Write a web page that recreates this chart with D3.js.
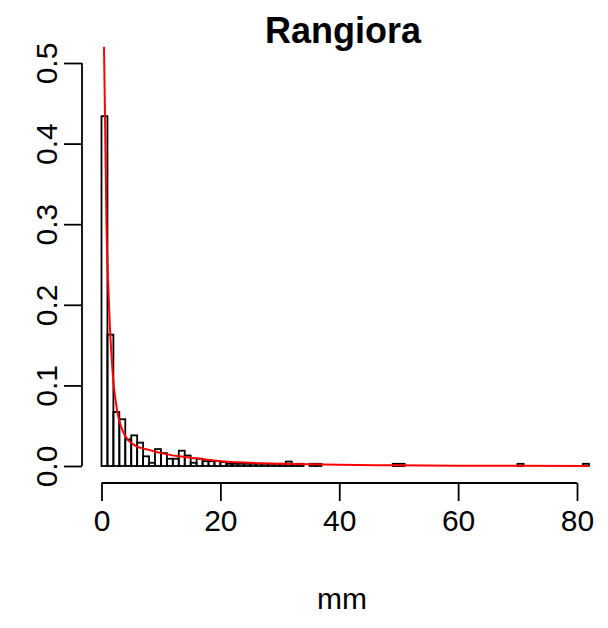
<!DOCTYPE html>
<html>
<head>
<meta charset="utf-8">
<script src="https://cdn.jsdelivr.net/npm/d3@7"></script>
<style>
  body { margin: 0; background: #fff; }
  text { font-family: "Liberation Sans", Arial, sans-serif; fill: #000; }
</style>
</head>
<body>
<svg id="chart" width="608" height="628"></svg>
<script>
// histogram density per 1 mm bin, bins start at 0 mm
var binDensity = [
  0.434, 0.163, 0.067, 0.058, 0.033, 0.038, 0.029, 0.012, 0.004, 0.021,
  0.016, 0.009, 0.009, 0.019, 0.013, 0.004, 0.009, 0.006, 0.006, 0.006,
  0.005, 0.0027, 0.0027, 0.0027, 0.0027, 0.0027, 0.0027, 0.0027, 0.0027, 0.0027,
  0.0027, 0.0055, 0.0027, 0.0027, 0, 0.0027, 0.0027, 0, 0, 0,
  0, 0, 0, 0, 0, 0, 0, 0, 0, 0.0027,
  0.0027, 0, 0, 0, 0, 0, 0, 0, 0, 0,
  0, 0, 0, 0, 0, 0, 0, 0, 0, 0,
  0.0027, 0, 0, 0, 0, 0, 0, 0, 0, 0,
  0, 0.0027
];
var binWidth = 1;

// fitted density curve
var curveMm = [0.42, 0.6, 0.85, 1.1, 1.4, 1.7, 2.0, 2.4, 2.8, 3.6, 4.5, 6, 8, 10, 13, 16, 20, 25, 30, 40, 50, 60, 70, 82];
var curveDens = [0.52, 0.43, 0.295, 0.23, 0.175, 0.135, 0.105, 0.08, 0.062, 0.043, 0.032, 0.024, 0.02, 0.016, 0.012, 0.0095, 0.006, 0.004, 0.0028, 0.0014, 0.0008, 0.0004, 0.0002, 0.0001];

var xTicks = [0, 20, 40, 60, 80];
var yTicks = [0, 0.1, 0.2, 0.3, 0.4, 0.5];
var title = "Rangiora";
var xLabel = "mm";

var svg = d3.select("#chart");

var x = d3.scaleLinear().domain([0, 80]).range([101.5, 577]);
var y = d3.scaleLinear().domain([0, 0.5]).range([466, 63]);

var fs = 30;

// bars
svg.append("g")
  .selectAll("rect")
  .data(binDensity)
  .enter().append("rect")
  .attr("x", function (d, i) { return x(i * binWidth); })
  .attr("y", function (d) { return y(d); })
  .attr("width", function (d, i) { return x((i + 1) * binWidth) - x(i * binWidth); })
  .attr("height", function (d) { return y(0) - y(d); })
  .attr("fill", "none")
  .attr("stroke", "#000")
  .attr("stroke-width", 1.8);

// density curve
var line = d3.line()
  .x(function (d) { return x(d[0]); })
  .y(function (d) { return y(d[1]); })
  .curve(d3.curveMonotoneX);

svg.append("path")
  .attr("d", line(d3.zip(curveMm, curveDens)))
  .attr("fill", "none")
  .attr("stroke", "#ff0000")
  .attr("stroke-width", 2);

// x axis
var xAxis = d3.axisBottom(x).tickValues(xTicks).tickSize(18).tickPadding(9).tickSizeOuter(0);
var gx = svg.append("g")
  .attr("transform", "translate(0,483)")
  .call(xAxis);
gx.select(".domain").attr("d", "M" + x(0) + ",0H" + x(80)).attr("stroke-width", 1.8);
gx.selectAll(".tick line").attr("stroke-width", 1.8);
gx.selectAll(".tick text").attr("font-size", fs).attr("font-family", "Liberation Sans, Arial, sans-serif");

// y axis
var yAxis = d3.axisLeft(y).tickValues(yTicks).tickFormat(d3.format(".1f")).tickSize(18).tickSizeOuter(0);
var gy = svg.append("g")
  .attr("transform", "translate(82,0)")
  .call(yAxis);
gy.select(".domain").attr("d", "M0," + y(0) + "V" + y(0.5)).attr("stroke-width", 1.8);
gy.selectAll(".tick line").attr("stroke-width", 1.8);
gy.selectAll(".tick text")
  .attr("font-size", fs)
  .attr("font-family", "Liberation Sans, Arial, sans-serif")
  .attr("text-anchor", "middle")
  .attr("dy", 0)
  .attr("x", 0)
  .attr("transform", "translate(-36,0) rotate(-90)")
  .attr("dominant-baseline", "auto")
  .attr("y", 11);

// title and axis label
svg.append("text")
  .attr("x", 343)
  .attr("y", 43)
  .attr("text-anchor", "middle")
  .attr("font-size", 36)
  .attr("font-weight", "bold")
  .text(title);

svg.append("text")
  .attr("x", 342)
  .attr("y", 609)
  .attr("text-anchor", "middle")
  .attr("font-size", fs)
  .text(xLabel);
</script>
</body>
</html>
